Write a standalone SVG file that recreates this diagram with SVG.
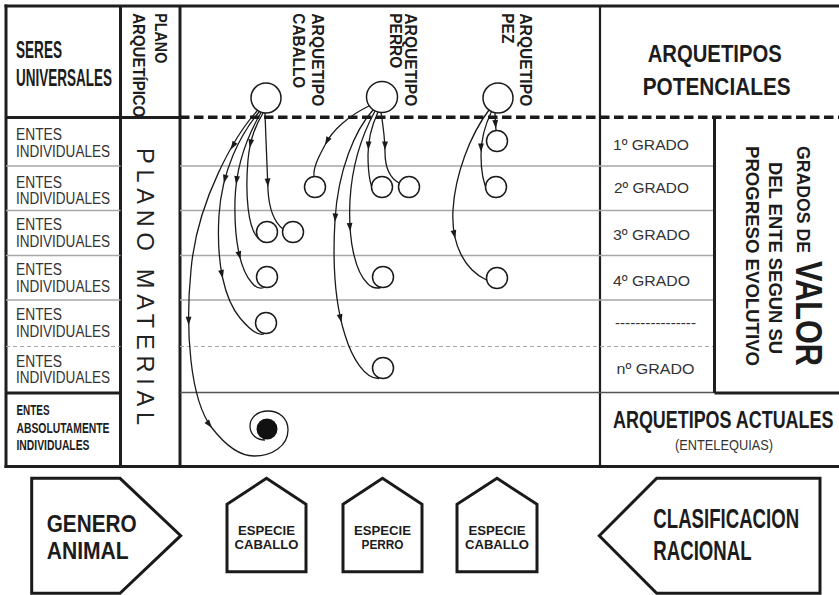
<svg xmlns="http://www.w3.org/2000/svg" width="839" height="595" viewBox="0 0 839 595">
<defs>
<style>
.t{font-family:"Liberation Sans Narrow","Liberation Sans",Arial,sans-serif}
.b{font-weight:bold;fill:#1c1c1c}
.r{font-weight:normal;fill:#333}
.frame{stroke:#1e1e1e;stroke-width:3;fill:none}
.mid{stroke:#1e1e1e;stroke-width:2.2;fill:none}
.row{stroke:#a8a8a8;stroke-width:1.4;fill:none}
.rowd{stroke:#a8a8a8;stroke-width:1.2;stroke-dasharray:4 3;fill:none}
.sep{stroke:#555;stroke-width:1.6;fill:none}
.topdash{stroke:#1a1a1a;stroke-width:3.5;stroke-dasharray:9.5 4.5;fill:none}
.conn{fill:none;stroke:#1a1a1a;stroke-width:1.3}
.node{fill:#fff;stroke:#1a1a1a;stroke-width:1.5}
.shape{fill:#fff;stroke:#1a1a1a;stroke-width:3;stroke-linejoin:miter}
</style>
<path id="ah" d="M0,0 L-8.5,-2.9 L-8.5,2.9 Z" fill="#1a1a1a"/>
</defs>
<rect width="839" height="595" fill="#fff"/>

<g id="table">
<line x1="4.5" y1="6" x2="839" y2="6" class="frame"/>
<line x1="6" y1="4.5" x2="6" y2="468" class="frame"/>
<line x1="4.5" y1="466.5" x2="839" y2="466.5" class="frame"/>
<line x1="120.5" y1="6" x2="120.5" y2="466.5" class="frame"/>
<line x1="180" y1="6" x2="180" y2="466.5" class="frame"/>
<line x1="600" y1="6" x2="600" y2="466.5" class="mid"/>
<line x1="6" y1="117.5" x2="180" y2="117.5" class="frame"/>
<line x1="6" y1="393" x2="120.5" y2="393" class="frame"/>
<path class="row" d="M6,166H120.5M6,210.5H120.5M6,255.5H120.5M6,300H120.5M180,166H600M180,210.5H600M180,255.5H600M180,300H600M600,166H714M600,210.5H714M600,255.5H714M600,300H714"/>
<path class="rowd" d="M6,346.5H120.5M180,346.5H600M600,346.5H714"/>
<path class="sep" d="M180,392.5H600M600,392.5H714"/>
<line x1="714.5" y1="117" x2="714.5" y2="393" class="frame"/>
<line x1="714.5" y1="393" x2="839" y2="393" class="frame"/>
<line x1="180" y1="117.2" x2="839" y2="117.2" class="topdash"/>
</g>

<g id="labels" class="t">
<text x="16" y="58.3" class="b" font-size="24" textLength="46" lengthAdjust="spacingAndGlyphs">SERES</text>
<text x="16" y="86" class="b" font-size="24" textLength="96" lengthAdjust="spacingAndGlyphs">UNIVERSALES</text>
<g class="r" font-size="16">
<text x="16" y="140" textLength="46" lengthAdjust="spacingAndGlyphs">ENTES</text>
<text x="16" y="157" textLength="94" lengthAdjust="spacingAndGlyphs">INDIVIDUALES</text>
<text x="16" y="188" textLength="46" lengthAdjust="spacingAndGlyphs">ENTES</text>
<text x="16" y="204" textLength="94" lengthAdjust="spacingAndGlyphs">INDIVIDUALES</text>
<text x="16" y="230" textLength="46" lengthAdjust="spacingAndGlyphs">ENTES</text>
<text x="16" y="246.5" textLength="94" lengthAdjust="spacingAndGlyphs">INDIVIDUALES</text>
<text x="16" y="275" textLength="46" lengthAdjust="spacingAndGlyphs">ENTES</text>
<text x="16" y="291.5" textLength="94" lengthAdjust="spacingAndGlyphs">INDIVIDUALES</text>
<text x="16" y="320" textLength="46" lengthAdjust="spacingAndGlyphs">ENTES</text>
<text x="16" y="337" textLength="94" lengthAdjust="spacingAndGlyphs">INDIVIDUALES</text>
<text x="16" y="367" textLength="46" lengthAdjust="spacingAndGlyphs">ENTES</text>
<text x="16" y="383" textLength="94" lengthAdjust="spacingAndGlyphs">INDIVIDUALES</text>
</g>
<g class="b" font-size="14">
<text x="16.5" y="415" textLength="33" lengthAdjust="spacingAndGlyphs">ENTES</text>
<text x="16.5" y="433" textLength="93" lengthAdjust="spacingAndGlyphs">ABSOLUTAMENTE</text>
<text x="16.5" y="450" textLength="73" lengthAdjust="spacingAndGlyphs">INDIVIDUALES</text>
</g>
<text transform="translate(155,13.3) rotate(90)" class="b" font-size="17" textLength="50" lengthAdjust="spacingAndGlyphs">PLANO</text>
<text transform="translate(133,13.3) rotate(90)" class="b" font-size="17" textLength="104" lengthAdjust="spacingAndGlyphs">ARQUETÍPICO</text>
<text transform="translate(137,148) rotate(90)" fill="#222" font-size="23.5" textLength="277" lengthAdjust="spacing">PLANO MATERIAL</text>

<text transform="translate(312,13.3) rotate(90)" class="b" font-size="17" textLength="93" lengthAdjust="spacingAndGlyphs">ARQUETIPO</text>
<text transform="translate(293,13.3) rotate(90)" class="b" font-size="17" textLength="75" lengthAdjust="spacingAndGlyphs">CABALLO</text>
<text transform="translate(405,13.3) rotate(90)" class="b" font-size="17" textLength="93" lengthAdjust="spacingAndGlyphs">ARQUETIPO</text>
<text transform="translate(390,13.3) rotate(90)" class="b" font-size="17" textLength="55" lengthAdjust="spacingAndGlyphs">PERRO</text>
<text transform="translate(520,13.3) rotate(90)" class="b" font-size="17" textLength="93" lengthAdjust="spacingAndGlyphs">ARQUETIPO</text>
<text transform="translate(502,13.3) rotate(90)" class="b" font-size="17" textLength="30" lengthAdjust="spacingAndGlyphs">PEZ</text>

<text x="647.7" y="61.7" class="b" font-size="23" textLength="134" lengthAdjust="spacingAndGlyphs">ARQUETIPOS</text>
<text x="642.7" y="95" class="b" font-size="23" textLength="148" lengthAdjust="spacingAndGlyphs">POTENCIALES</text>
<g class="r" font-size="15.5">
<text x="613" y="150" textLength="76" lengthAdjust="spacingAndGlyphs">1º GRADO</text>
<text x="614" y="193" textLength="75" lengthAdjust="spacingAndGlyphs">2º GRADO</text>
<text x="613" y="240" textLength="77" lengthAdjust="spacingAndGlyphs">3º GRADO</text>
<text x="613" y="286" textLength="77" lengthAdjust="spacingAndGlyphs">4º GRADO</text>
<text x="615" y="327.5" textLength="81" lengthAdjust="spacingAndGlyphs">----------------</text>
<text x="616.5" y="374" textLength="78" lengthAdjust="spacingAndGlyphs">nº GRADO</text>
</g>
<text transform="translate(797,146) rotate(90)" class="b" font-size="19" textLength="107" lengthAdjust="spacingAndGlyphs">GRADOS DE</text>
<text transform="translate(796,261) rotate(90)" class="b" font-size="36" textLength="105" lengthAdjust="spacingAndGlyphs">VALOR</text>
<text transform="translate(769,162) rotate(90)" class="b" font-size="17.5" textLength="192" lengthAdjust="spacingAndGlyphs">DEL ENTE SEGUN SU</text>
<text transform="translate(746,146) rotate(90)" class="b" font-size="17.5" textLength="220" lengthAdjust="spacingAndGlyphs">PROGRESO EVOLUTIVO</text>
<text transform="translate(613,428) scale(0.78,1)" class="b" font-size="23">ARQUETIPOS ACTUALES</text>
<text x="675" y="450" class="r" font-size="15" textLength="98" lengthAdjust="spacingAndGlyphs">(ENTELEQUIAS)</text>
</g>

<g id="connectors">
<path class="conn" d="M257,111 C236,134 197,200 191,270 C185,330 190,400 212,428 C226,446 240,456 254,456 C272,456 288,446 288,430 C288,418 279,411 268,411 C257,411 250,418 250,426 C250,434 256,440 265,440"/>
<path class="conn" d="M259,112 C240,135 222,170 219,215 C216,265 225,300 240,318 C250,330 258,336 264,334"/>
<path class="conn" d="M261,112.5 C248,135 236,165 235,200 C234,240 240,270 252,283 C256,288 260,289 264,287.5"/>
<path class="conn" d="M263,113 C256,125 250,138 248,160 C245,195 248,228 258,238 C261,241 263,242 266,242.5"/>
<path class="conn" d="M265,113 C266,140 267,170 268,190 C269,208 274,222 283,229"/>
<path class="conn" d="M369,106 C350,115 332,130 325,145 C318,158 313,168 314,176.5"/>
<path class="conn" d="M373,110 C355,130 338,170 335,220 C332,270 337,310 345,335 C352,358 365,379 379,378.5"/>
<path class="conn" d="M375,111 C362,135 352,165 350,200 C348,240 355,272 368,284 C372,288 377,288.5 381,287.5"/>
<path class="conn" d="M378,112 C372,125 368,140 368,155 C368,172 370,188 376,195"/>
<path class="conn" d="M381,112.5 C383,125 385,140 385,152 C385,167 390,178 399,183"/>
<path class="conn" d="M489,110 C470,135 455,175 453,210 C451,245 465,270 486.5,280"/>
<path class="conn" d="M491.5,111.5 C485,125 481,140 481,155 C481,170 483,183 488,192"/>
<path class="conn" d="M495,113 L496,130.5"/>
<use href="#ah" transform="translate(230.8,149.6) rotate(120)"/>
<use href="#ah" transform="translate(188.7,325.3) rotate(89)"/>
<use href="#ah" transform="translate(212,428) rotate(52)"/>
<use href="#ah" transform="translate(223.8,183.2) rotate(104)"/>
<use href="#ah" transform="translate(222.8,278.5) rotate(78)"/>
<use href="#ah" transform="translate(236.1,184.6) rotate(97)"/>
<use href="#ah" transform="translate(240.5,259.6) rotate(75)"/>
<use href="#ah" transform="translate(249.7,147.8) rotate(101)"/>
<use href="#ah" transform="translate(268,187) rotate(87)"/>
<use href="#ah" transform="translate(325,145) rotate(118)"/>
<use href="#ah" transform="translate(335,222) rotate(93)"/>
<use href="#ah" transform="translate(341.5,322.6) rotate(77)"/>
<use href="#ah" transform="translate(350.3,231.4) rotate(85)"/>
<use href="#ah" transform="translate(368.3,150) rotate(92)"/>
<use href="#ah" transform="translate(385,150) rotate(90)"/>
<use href="#ah" transform="translate(455.3,238.6) rotate(77)"/>
<use href="#ah" transform="translate(481,152) rotate(90)"/>
<use href="#ah" transform="translate(495.8,128.5) rotate(86)"/>
</g>

<g id="arq-caballo"><circle cx="266" cy="98" r="15" class="node"/></g>
<g id="arq-perro"><circle cx="382" cy="97" r="15.5" class="node"/></g>
<g id="arq-pez"><circle cx="498" cy="98" r="15" class="node"/></g>
<g id="c-caballo-3a"><circle cx="267" cy="232" r="10.5" class="node"/></g>
<g id="c-caballo-3b"><circle cx="293" cy="232" r="10.5" class="node"/></g>
<g id="c-caballo-4"><circle cx="267" cy="277" r="10.5" class="node"/></g>
<g id="c-caballo-5"><circle cx="266" cy="323" r="10.5" class="node"/></g>
<g id="c-absoluto"><circle cx="267" cy="429" r="10.5" fill="#111"/></g>
<g id="c-perro-2a"><circle cx="315" cy="187" r="10.5" class="node"/></g>
<g id="c-perro-2b"><circle cx="382" cy="187" r="10.5" class="node"/></g>
<g id="c-perro-2c"><circle cx="409" cy="187" r="10.5" class="node"/></g>
<g id="c-perro-4"><circle cx="383" cy="277" r="10.5" class="node"/></g>
<g id="c-perro-6"><circle cx="383" cy="368" r="10.5" class="node"/></g>
<g id="c-pez-1"><circle cx="497" cy="141" r="10.5" class="node"/></g>
<g id="c-pez-2"><circle cx="496" cy="187" r="10.5" class="node"/></g>
<g id="c-pez-4"><circle cx="497" cy="278" r="10.5" class="node"/></g>

<g id="genero-animal" class="t">
<polygon class="shape" points="31.7,478.3 120,478.3 180.7,535.7 120,593.3 31.7,593.3"/>
<text x="46.7" y="531.7" class="b" font-size="23" textLength="90" lengthAdjust="spacingAndGlyphs">GENERO</text>
<text x="46.7" y="559" class="b" font-size="23" textLength="82" lengthAdjust="spacingAndGlyphs">ANIMAL</text>
</g>
<g id="especie-caballo-1" class="t">
<polygon class="shape" points="227,571.7 227,504.3 266.5,478.3 306,504.3 306,571.7"/>
<text x="266.5" y="535" class="b" font-size="13.5" text-anchor="middle" textLength="57" lengthAdjust="spacingAndGlyphs">ESPECIE</text>
<text x="266.5" y="549" class="b" font-size="13.5" text-anchor="middle" textLength="64" lengthAdjust="spacingAndGlyphs">CABALLO</text>
</g>
<g id="especie-perro" class="t">
<polygon class="shape" points="343,571.7 343,504.3 382.5,478.3 422,504.3 422,571.7"/>
<text x="382.5" y="535" class="b" font-size="13.5" text-anchor="middle" textLength="57" lengthAdjust="spacingAndGlyphs">ESPECIE</text>
<text x="382.5" y="549" class="b" font-size="13.5" text-anchor="middle" textLength="42" lengthAdjust="spacingAndGlyphs">PERRO</text>
</g>
<g id="especie-caballo-2" class="t">
<polygon class="shape" points="457,571.7 457,504.3 497,478.3 537,504.3 537,571.7"/>
<text x="497" y="535" class="b" font-size="13.5" text-anchor="middle" textLength="57" lengthAdjust="spacingAndGlyphs">ESPECIE</text>
<text x="497" y="549" class="b" font-size="13.5" text-anchor="middle" textLength="64" lengthAdjust="spacingAndGlyphs">CABALLO</text>
</g>
<g id="clasificacion-racional" class="t">
<polygon class="shape" points="599.3,535.7 656.7,478.3 820,478.3 820,593.3 656.7,593.3"/>
<text transform="translate(653.3,528) scale(0.69,1)" class="b" font-size="27">CLASIFICACION</text>
<text transform="translate(653.3,560) scale(0.69,1)" class="b" font-size="27">RACIONAL</text>
</g>
</svg>
